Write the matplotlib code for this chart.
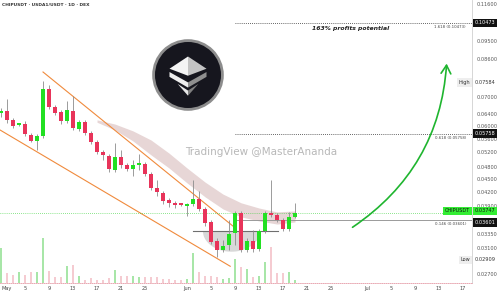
import numpy as np
import matplotlib.pyplot as plt
from matplotlib.patches import Circle, Polygon
import matplotlib.transforms as mtransforms

# daily candles, day 0 = May 1
days = np.arange(50)
opens = [0.0644, 0.0651, 0.0620, 0.0603, 0.0606, 0.0571, 0.0553, 0.0568, 0.0733, 0.0665,
         0.0647, 0.0616, 0.0651, 0.0590, 0.0613, 0.0578, 0.0550, 0.0521, 0.0510, 0.0473,
         0.0507, 0.0486, 0.0475, 0.0486, 0.0488, 0.0463, 0.0429, 0.0418, 0.0402, 0.0396,
         0.0393, 0.0389, 0.0393, 0.0404, 0.0383, 0.0357, 0.0322, 0.0307, 0.0315, 0.0336,
         0.0375, 0.0307, 0.0322, 0.0309, 0.0340, 0.0375, 0.0371, 0.0361, 0.0344, 0.0367]
closes = [0.0647, 0.0620, 0.0600, 0.0606, 0.0574, 0.0553, 0.0568, 0.0733, 0.0665, 0.0644,
          0.0616, 0.0654, 0.0594, 0.0613, 0.0578, 0.0550, 0.0521, 0.0513, 0.0475, 0.0507,
          0.0486, 0.0475, 0.0486, 0.0491, 0.0463, 0.0429, 0.0420, 0.0400, 0.0396, 0.0391,
          0.0391, 0.0393, 0.0404, 0.0383, 0.0355, 0.0321, 0.0307, 0.0314, 0.0335, 0.0375,
          0.0307, 0.0322, 0.0309, 0.0340, 0.0375, 0.0371, 0.0361, 0.0344, 0.0367, 0.03747]
highs = [0.0661, 0.0694, 0.0626, 0.0610, 0.0616, 0.0578, 0.0574, 0.0765, 0.0749, 0.0672,
         0.0654, 0.0687, 0.0706, 0.0620, 0.0620, 0.0584, 0.0556, 0.0527, 0.0516, 0.0547,
         0.0527, 0.0491, 0.0499, 0.0516, 0.0494, 0.0468, 0.0448, 0.0422, 0.0406, 0.0400,
         0.0396, 0.0396, 0.0448, 0.0422, 0.0387, 0.0361, 0.0327, 0.0324, 0.0361, 0.0379,
         0.0379, 0.0327, 0.0342, 0.0344, 0.0379, 0.0448, 0.0375, 0.0365, 0.0377, 0.0396]
lows = [0.0630, 0.0610, 0.0594, 0.0600, 0.0568, 0.0550, 0.0527, 0.0562, 0.0658, 0.0637,
        0.0606, 0.0610, 0.0587, 0.0584, 0.0571, 0.0544, 0.0516, 0.0499, 0.0468, 0.0468,
        0.0478, 0.0470, 0.0458, 0.0473, 0.0458, 0.0425, 0.0411, 0.0393, 0.0387, 0.0385,
        0.0389, 0.0369, 0.0389, 0.0379, 0.0349, 0.0317, 0.0295, 0.0304, 0.0307, 0.0315,
        0.0304, 0.0304, 0.0304, 0.0305, 0.0336, 0.0367, 0.0357, 0.0340, 0.0340, 0.0365]
volume = [35, 10, 8, 11, 8, 11, 11, 45, 12, 6, 6, 17, 18, 7, 3, 5, 3, 3, 5, 13,
          7, 7, 7, 6, 6, 6, 6, 4, 4, 3, 3, 4, 30, 11, 7, 7, 6, 4, 5, 24,
          16, 14, 6, 7, 21, 36, 10, 10, 11, 3]

# moving average cloud
band_days = [16, 19, 22, 25, 28, 31, 34, 37, 40, 43, 46, 49]
band_top = [0.0620, 0.0606, 0.0584, 0.0556, 0.0518, 0.0478, 0.0443, 0.0415, 0.0396, 0.0385, 0.0377, 0.0379]
band_bot = [0.0612, 0.0587, 0.0553, 0.0513, 0.0478, 0.0441, 0.0409, 0.0383, 0.0367, 0.0359, 0.0353, 0.0357]

# channel
upper_days, upper_px = [7, 39], [0.0803, 0.0346]
lower_days, lower_px = [-0.17, 38.2], [0.0587, 0.0281]

tick_days = [0, 4, 8, 12, 16, 20, 24, 31, 35, 39, 43, 47, 51, 55, 61, 65, 69, 73, 77]
tick_labels = ['May', '5', '9', '13', '17', '21', '25', 'Jun', '5', '9', '13', '17',
               '21', '25', 'Jul', '5', '9', '13', '17']
price_ticks = [0.116, 0.095, 0.086, 0.070, 0.064, 0.060, 0.056, 0.052, 0.048, 0.045,
               0.042, 0.039, 0.0335, 0.031, 0.027]

fib_levels = [0.10473, 0.05758, 0.03601]
fib_names = ['1.618', '0.618', '0.146']
last_price = 0.03747
high_price, low_price = 0.07584, 0.02909
support = 0.0340

fig = plt.figure(figsize=(5, 2.95), dpi=100)
ax = fig.add_axes([0, 12 / 295, 472 / 500, 283 / 295])
ax.set_yscale('log')
ax.set_xlim(-0.17, 78.5)
ax.set_ylim(0.02567, 0.1185)

# volume on its own axis
axv = ax.twinx()
axv.set_ylim(0, 283)
axv.set_yticks([])
vcol = ['#a8e6a8' if c >= o else '#f5cbd1' for o, c in zip(opens, closes)]
axv.bar(days, volume, width=0.35, color=vcol, lw=0)
ax.set_zorder(axv.get_zorder() + 1)
ax.patch.set_visible(False)
for s in axv.spines.values():
    s.set_visible(False)

# cloud
ax.fill_between(band_days, band_top, band_bot, color='#e2cccc', alpha=0.8, lw=0, zorder=1)

# channel lines
ax.plot(upper_days, upper_px, color='#f08a3c', lw=0.8, zorder=2)
ax.plot(lower_days, lower_px, color='#f08a3c', lw=0.8, zorder=2)

# rounded bottom
t = np.linspace(np.pi, 2 * np.pi, 60)
bx = 38.4 + 4.75 * np.cos(t)
by = np.exp(np.log(support) + np.log(support / 0.0304) * np.sin(t))
ax.fill(bx, by, color='#b8b8b8', alpha=0.55, lw=0, zorder=1)
ax.plot([32, 46.2], [support, support], color='#6f6f6f', lw=0.8, zorder=2)

# candles
o = np.array(opens); c = np.array(closes)
up = c >= o
bot = np.minimum(o, c)
top = np.maximum(np.maximum(o, c), bot * 1.012)
ax.vlines(days, lows, highs, color='#8c8c8c', lw=0.6, zorder=3)
ax.bar(days, top - bot, bottom=bot, width=0.65,
       color=np.where(up, '#22e022', '#e8345a'), lw=0, zorder=4)

# fib lines
xr = ax.get_xlim()[1]
for lvl, nm in zip(fib_levels, fib_names):
    if nm == '0.146':
        ax.plot([39, xr], [lvl, lvl], color='#9a9a9a', lw=0.7, zorder=2)
    else:
        ax.plot([39, xr], [lvl, lvl], color='#333333', lw=0.6, ls=(0, (1, 1.5)), zorder=2)
    ax.annotate(f'{nm} ({lvl:.5f})', (xr - 1, lvl), xytext=(0, -1.5), textcoords='offset points',
                ha='right', va='top', fontsize=2.8, color='#444444')
ax.axhline(last_price, color='#22cc22', lw=0.5, ls=(0, (1, 2)), zorder=2)

# arrow
ax.annotate('', xy=(74.3, 0.0853), xytext=(58.2, 0.0344),
            arrowprops=dict(arrowstyle='->,head_length=0.6,head_width=0.35', color='#1fb52f',
                            lw=1.2, mutation_scale=10, connectionstyle='arc3,rad=0.25'))

# axes styling
ax.yaxis.tick_right()
ax.set_yticks(price_ticks, [f'{v:.5f}' for v in price_ticks])
ax.yaxis.set_minor_locator(plt.NullLocator())
ax.tick_params(axis='y', length=0, pad=3, labelsize=3.6, labelcolor='#555555')
ax.set_xticks(tick_days, tick_labels)
ax.get_xticklabels()[0].set_horizontalalignment('left')
ax.tick_params(axis='x', length=0, pad=2.5, labelsize=3.6, labelcolor='#444444')
for s in ['top', 'left']:
    ax.spines[s].set_visible(False)
ax.spines['right'].set_color('#d0d0d0')
ax.spines['right'].set_linewidth(0.6)
ax.spines['bottom'].set_color('#e59aa6')
ax.spines['bottom'].set_linewidth(0.6)
ax.spines['bottom'].set_linestyle((0, (1, 1.5)))

# boxed price labels
tr = mtransforms.blended_transform_factory(ax.transAxes, ax.transData)
def box(y, txt, fc, tc, x=1.006, ha='left', dy=0):
    ax.annotate(txt, (x, y), xycoords=tr, xytext=(0, dy), textcoords='offset points',
                ha=ha, va='center', fontsize=3.6, color=tc, annotation_clip=False,
                bbox=dict(boxstyle='square,pad=0.35', fc=fc, ec='none'))
box(fib_levels[0], '0.10473', '#111111', 'white')
box(fib_levels[1], '0.05758', '#111111', 'white')
box(last_price, '0.03747', '#33ee33', '#111111', dy=1.5)
box(fib_levels[2], '0.03601', '#111111', 'white', dy=-1.5)
box(last_price, 'CHIPUSDT', '#33ee33', '#111111', x=0.996, ha='right', dy=1.5)
box(high_price, '0.07584', 'white', '#333333')
box(high_price, 'High', '#eeeeee', '#333333', x=0.996, ha='right')
box(low_price, '0.02909', 'white', '#333333')
box(low_price, 'Low', '#eeeeee', '#333333', x=0.996, ha='right')

# texts
fig.text(0.004, 0.983, 'CHIPUSDT · USDA1/USDT · 1D · DEX', fontsize=3.2, weight='bold',
         color='#333333', va='center')
fig.text(0.702, 0.902, '163% profits potential', fontsize=4.4, style='italic', weight='bold',
         color='#222222', ha='center', va='center')
fig.text(0.522, 0.485, 'TradingView @MasterAnanda', fontsize=7.5, color='#b8b8b8',
         ha='center', va='center')

# logo
lg = fig.add_axes([151 / 500, (295 - 112) / 295, 74 / 500, 74 / 295])
lg.set_xlim(-1, 1); lg.set_ylim(-1, 1); lg.axis('off')
lg.add_patch(Circle((0, 0), 0.93, fc='#16161e', ec='#8d8d8d', lw=2))
shapes = [
    ([(0, 0.5), (-0.5, 0.17), (0, -0.02)], '#f4f4f4'),
    ([(0, 0.5), (0.5, 0.17), (0, -0.02)], '#c4c4c4'),
    ([(-0.5, 0.08), (0, -0.2), (0, -0.34), (-0.5, -0.05)], '#eeeeee'),
    ([(0, -0.2), (0.5, 0.08), (0.5, -0.05), (0, -0.34)], '#8f8f8f'),
    ([(-0.28, -0.24), (0, -0.42), (0, -0.56)], '#e8e8e8'),
    ([(0, -0.42), (0.28, -0.24), (0, -0.56)], '#7f7f7f'),
]
for pts, col in shapes:
    lg.add_patch(Polygon(pts, closed=True, fc=col, ec='none'))

fig.savefig('out.png', dpi=100, facecolor='white')
